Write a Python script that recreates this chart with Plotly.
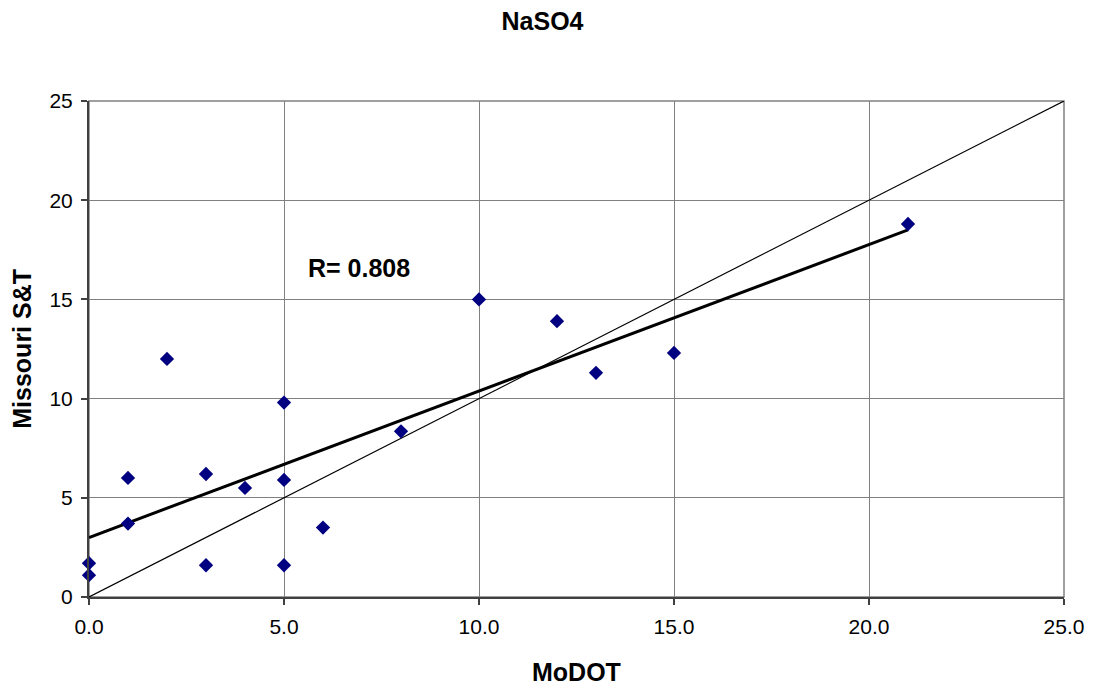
import plotly.graph_objects as go

modot = [0, 0, 1, 1, 2, 3, 3, 4, 5, 5, 5, 6, 8, 10, 12, 13, 15, 21]
mst = [1.7, 1.1, 6.0, 3.7, 12.0, 6.2, 1.6, 5.5, 9.8, 5.9, 1.6, 3.5, 8.35, 15.0, 13.9, 11.3, 12.3, 18.8]
equal_x = [0, 25]
equal_y = [0, 25]
trend_x = [0, 21]
trend_y = [3.0, 18.5]
x_ticks = [0, 5, 10, 15, 20, 25]
x_labels = ["0.0", "5.0", "10.0", "15.0", "20.0", "25.0"]
y_ticks = [0, 5, 10, 15, 20, 25]

FONT = "Liberation Sans, Arial, sans-serif"

fig = go.Figure()
fig.add_trace(go.Scatter(x=equal_x, y=equal_y, mode="lines",
                         line=dict(color="black", width=1.2), showlegend=False, hoverinfo="skip"))
fig.add_trace(go.Scatter(x=trend_x, y=trend_y, mode="lines",
                         line=dict(color="black", width=3), showlegend=False))
fig.add_trace(go.Scatter(x=modot, y=mst, mode="markers",
                         marker=dict(symbol="diamond", size=11, color="#000080"),
                         showlegend=False, cliponaxis=False))

fig.add_annotation(x=5.56, y=16.6, xref="x", yref="y", text="<b>R= 0.808</b>",
                   showarrow=False, xanchor="left", yanchor="middle",
                   font=dict(family=FONT, size=25, color="black"))
fig.add_annotation(x=0.5, y=-0.1506, xref="paper", yref="paper", text="<b>MoDOT</b>",
                   showarrow=False, xanchor="center", yanchor="middle",
                   font=dict(family=FONT, size=25, color="black"))
fig.add_annotation(x=-0.069, y=0.5, xref="paper", yref="paper", text="<b>Missouri S&T</b>",
                   showarrow=False, xanchor="center", yanchor="middle", textangle=-90,
                   font=dict(family=FONT, size=25, color="black"))

fig.add_shape(type="rect", xref="paper", yref="paper", x0=0, y0=0, x1=1, y1=1,
              line=dict(color="#808080", width=1.5), layer="below")

axis_common = dict(showgrid=True, gridcolor="#808080", gridwidth=1.2,
                   showline=True, linecolor="#404040", linewidth=2, mirror=False,
                   ticks="outside", ticklen=6, tickcolor="#404040", tickwidth=1.5, zeroline=False,
                   tickfont=dict(family=FONT, size=21, color="black"), automargin=False)

fig.update_xaxes(range=[0, 25], tickvals=x_ticks, ticktext=x_labels,
                 ticklabelstandoff=4, **axis_common)
fig.update_yaxes(range=[0, 25], tickvals=y_ticks, ticklabelstandoff=4, **axis_common)

fig.update_layout(
    width=1094, height=689,
    margin=dict(l=81, r=38, t=93, b=100),
    plot_bgcolor="white", paper_bgcolor="white",
    title=dict(text="<b>NaSO4</b>", x=0.4886, xanchor="center", xref="container",
               y=0.981, yanchor="middle", yref="container",
               font=dict(family=FONT, size=25, color="black")),
)

fig.write_html("out.html")
